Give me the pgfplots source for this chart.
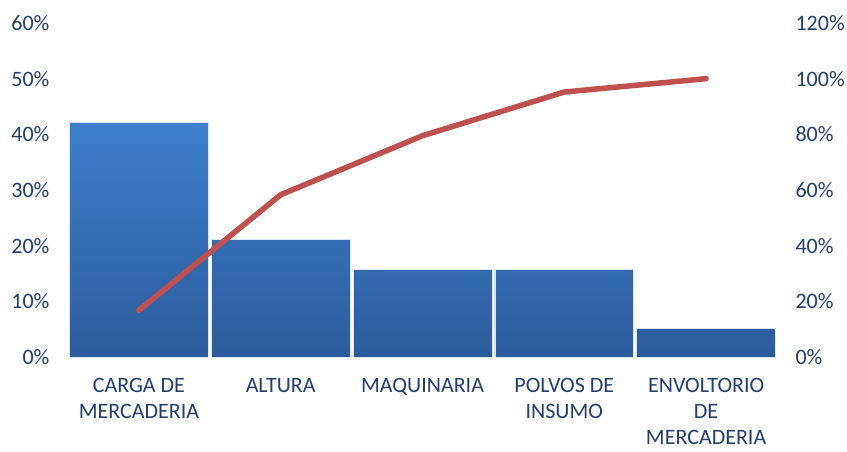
\documentclass[border=0pt]{standalone}
\usepackage{pgfplots}
\pgfplotsset{compat=1.18}
\usepackage{fontspec}
\setmainfont{Carlito}
\definecolor{txt}{RGB}{34,62,110}
\definecolor{bartop}{RGB}{60,127,204}
\definecolor{barbot}{RGB}{44,92,156}
\definecolor{linec}{RGB}{192,80,77}
\begin{document}
\begin{tikzpicture}[x=1pt,y=1pt]
\begin{axis}[
  scale only axis, width=709pt, height=334pt,
  xmin=-0.5, xmax=4.5, ymin=0, ymax=60,
  axis x line*=bottom, axis y line*=left,
  axis line style={draw=none},
  ytick={0,10,...,60},
  yticklabel={\pgfmathprintnumber{\tick}\%},
  /pgf/number format/assume math mode=true,
  xtick={0,1,2,3,4},
  xticklabels={{CARGA DE\\MERCADERIA},{ALTURA},{MAQUINARIA},{POLVOS DE\\INSUMO},{ENVOLTORIO\\DE\\MERCADERIA}},
  xticklabel style={align=center, font=\fontsize{22}{26}\selectfont, text=txt, anchor=north, yshift=-18pt},
  yticklabel style={font=\fontsize{22}{25}\selectfont, text=txt, anchor=east, xshift=-15pt},
  major tick length=0pt,
  tick style={draw=none},
  ybar, bar width=0.98,
  clip=false,
]
\addplot+[ybar, draw=white!80!bartop, line width=0.6pt, top color=bartop, bottom color=barbot] coordinates {
(0,42.1) (1,21.1) (2,15.75) (3,15.75) (4,5.15)};
\end{axis}
\begin{axis}[
  scale only axis, width=709pt, height=334pt,
  xmin=-0.5, xmax=4.5, ymin=0, ymax=120,
  axis x line=none, axis y line*=right,
  axis line style={draw=none},
  ytick={0,20,...,120},
  yticklabel={\pgfmathprintnumber{\tick}\%},
  /pgf/number format/assume math mode=true,
  xtick=\empty,
  yticklabel style={font=\fontsize{22}{25}\selectfont, text=txt, anchor=west, xshift=15pt},
  major tick length=0pt,
  tick style={draw=none},
  clip=false,
]
\addplot[color=linec, line width=5.5pt, line join=round, line cap=round, mark=none] coordinates {
(0,16.8) (1,58.3) (2,79.5) (3,95.2) (4,100)};
\end{axis}
\pgfresetboundingbox
\path[use as bounding box] (-68,-94) rectangle (779,357);
\end{tikzpicture}
\end{document}
